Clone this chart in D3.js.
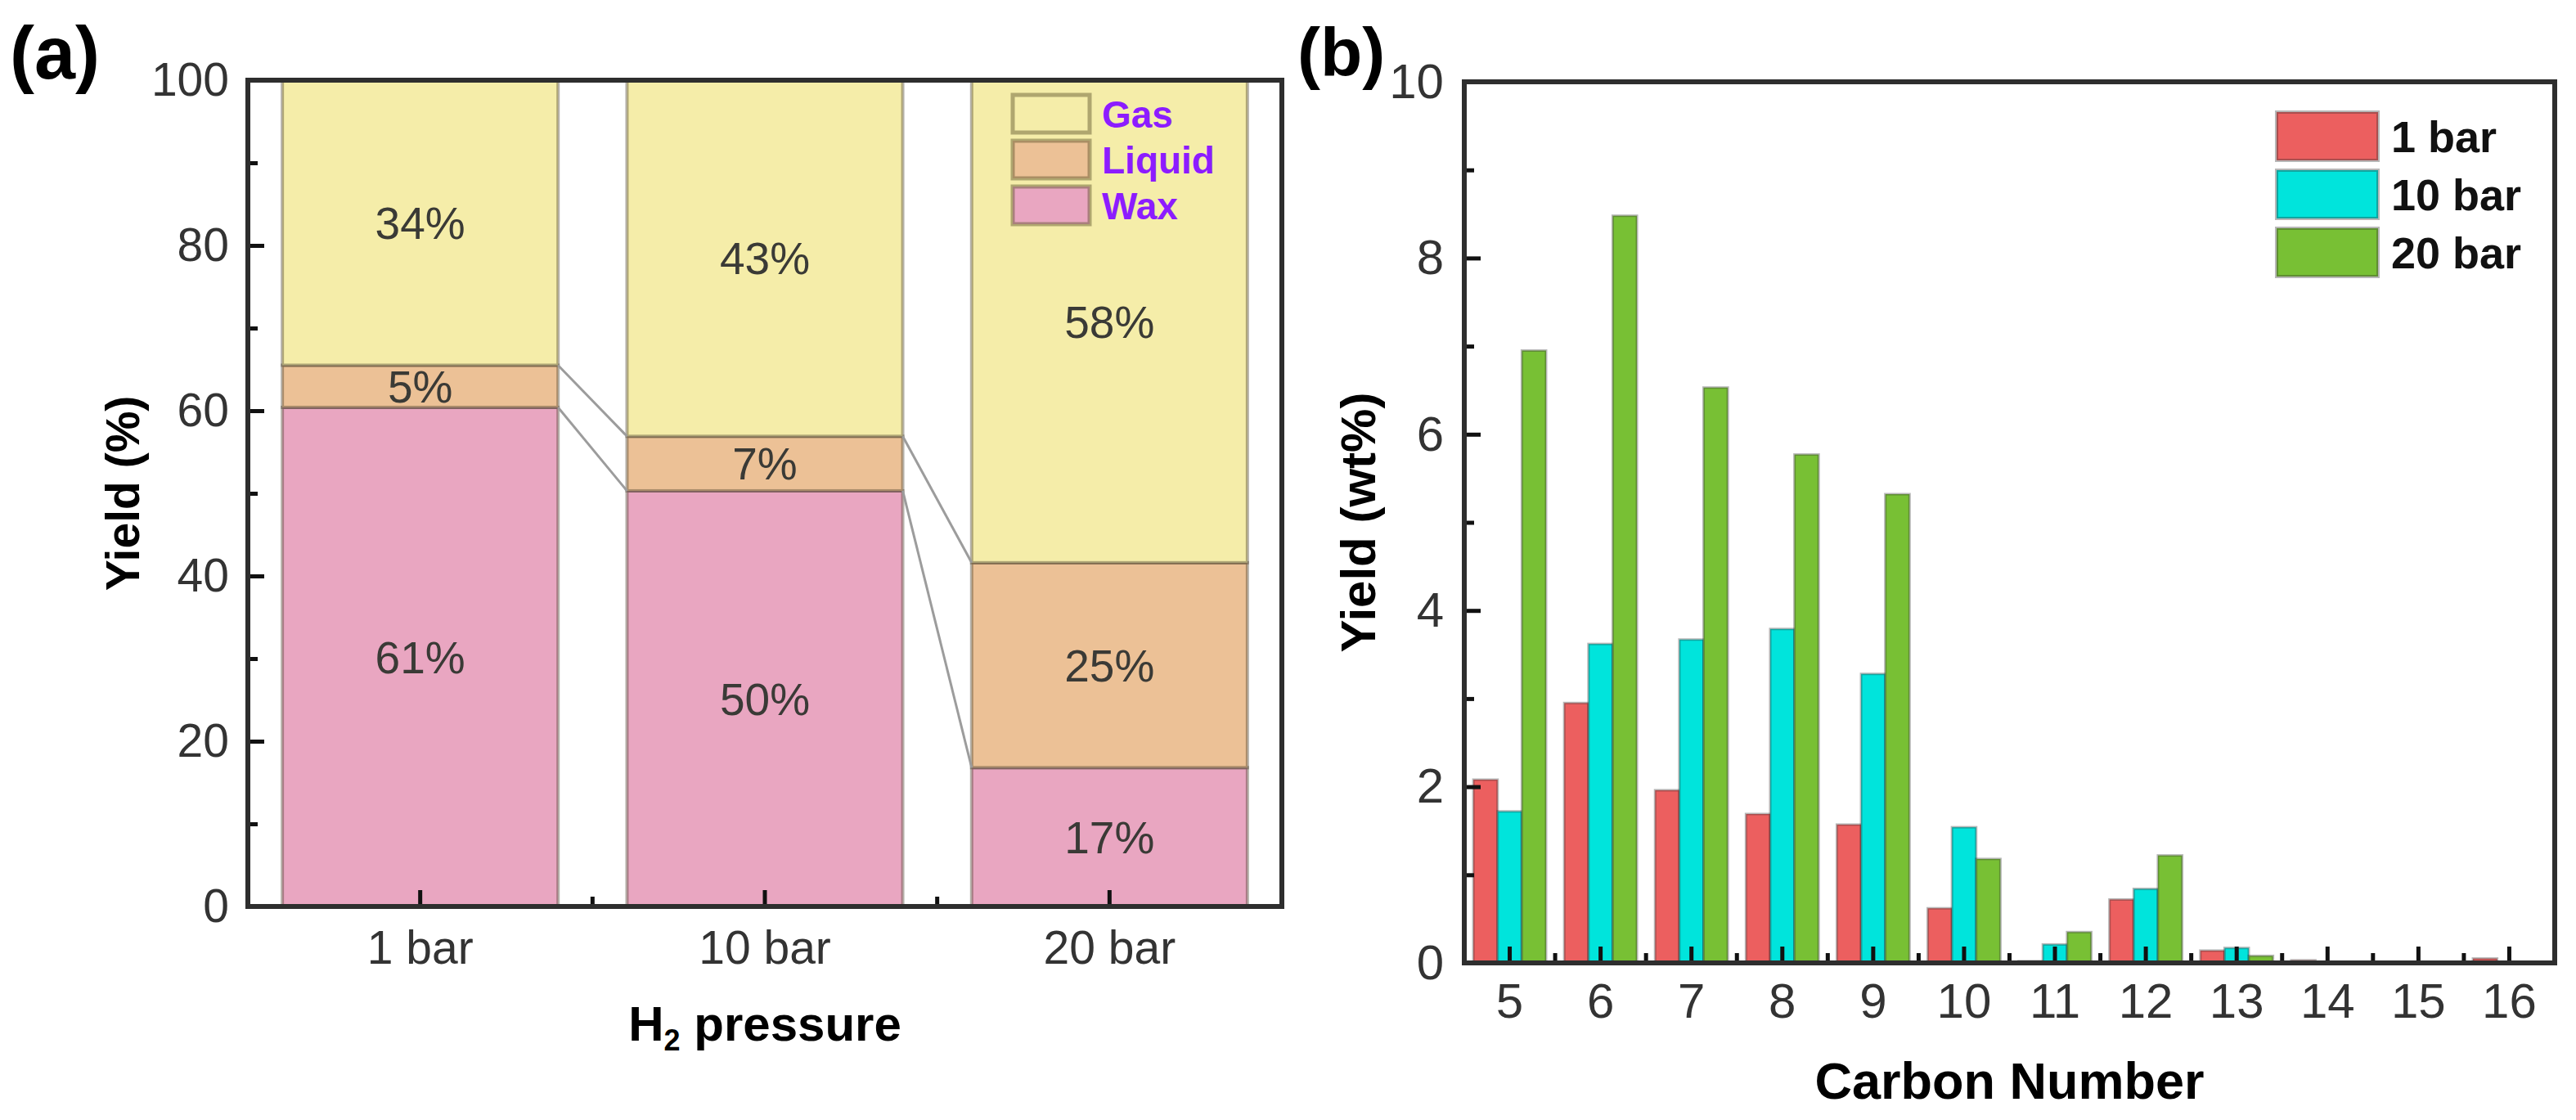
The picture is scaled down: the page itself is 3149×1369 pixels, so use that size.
<!DOCTYPE html>
<html>
<head>
	<meta charset="utf-8">
	<title>Yield vs H2 pressure</title>
	<style type="text/css">
		body { margin: 0; background: #fff; }
		svg { display: block; font-family: 'Liberation Sans', Arial, sans-serif; }
	</style>
	<script src="https://d3js.org/d3.v7.min.js"></script>
</head>
<body>
	<svg width="3149" height="1369"></svg>
	<script type="text/javascript">
		// panel (a) data
		var pressures = ['1 bar', '10 bar', '20 bar'];
		var waxYield = [60.4, 50.3, 16.8];
		var liquidYield = [5.1, 6.6, 24.8];
		var gasYield = [34.5, 43.1, 58.4];
		var waxLabels = ['61%', '50%', '17%'];
		var liquidLabels = ['5%', '7%', '25%'];
		var gasLabels = ['34%', '43%', '58%'];
		var yTicksA = [0, 20, 40, 60, 80, 100];

		// panel (b) data
		var carbonNumbers = [5, 6, 7, 8, 9, 10, 11, 12, 13, 14, 15, 16];
		var yield1bar = [2.08, 2.95, 1.96, 1.69, 1.57, 0.62, 0.02, 0.72, 0.14, 0.03, 0.01, 0.05];
		var yield10bar = [1.72, 3.62, 3.67, 3.79, 3.28, 1.54, 0.21, 0.84, 0.17, 0.01, 0, 0];
		var yield20bar = [6.95, 8.48, 6.53, 5.77, 5.32, 1.18, 0.35, 1.22, 0.08, 0.01, 0, 0];
		var seriesNames = ['1 bar', '10 bar', '20 bar'];
		var yTicksB = [0, 2, 4, 6, 8, 10];

		var svg = d3.select('svg');
		var frameCol = '#2e2e2e';

		//---------------- panel (a) ----------------
		var ax = {l: 303, r: 1567, t: 98, b: 1108};
		var xa = d3.scaleBand().domain(pressures).range([ax.l, ax.r])
			.paddingInner(0.2).paddingOuter(0.1);
		var ya = d3.scaleLinear().domain([0, 100]).range([ax.b, ax.t]);

		var rowsA = pressures.map((p, i) => ({p: p, wax: waxYield[i], liquid: liquidYield[i], gas: gasYield[i]}));
		var keysA = ['wax', 'liquid', 'gas'];
		var colA = {wax: '#e9a6c1', liquid: '#ecc196', gas: '#f5eda9'};
		var labA = {wax: waxLabels, liquid: liquidLabels, gas: gasLabels};
		var stackA = d3.stack().keys(keysA)(rowsA);

		var gA = svg.append('g');
		stackA.forEach(layer => {
			gA.selectAll(null)
				.data(layer)
				.enter()
				.append('rect')
				.attr('x', d => xa(d.data.p))
				.attr('y', d => ya(d[1]))
				.attr('width', xa.bandwidth())
				.attr('height', d => ya(d[0]) - ya(d[1]))
				.attr('fill', colA[layer.key])
				.attr('stroke', 'rgba(70,60,40,0.4)')
				.attr('stroke-width', 4);
		});

		// connector lines between neighbouring bars
		for (var i = 0; i < pressures.length - 1; i++) {
			[0, 1].forEach(k => {
				gA.append('line')
					.attr('x1', xa(pressures[i]) + xa.bandwidth())
					.attr('y1', ya(stackA[k][i][1]))
					.attr('x2', xa(pressures[i + 1]))
					.attr('y2', ya(stackA[k][i + 1][1]))
					.attr('stroke', '#9c9c9c')
					.attr('stroke-width', 3);
			});
		}

		// percentage labels
		stackA.forEach(layer => {
			gA.selectAll(null)
				.data(layer)
				.enter()
				.append('text')
				.attr('x', d => xa(d.data.p) + xa.bandwidth() / 2)
				.attr('y', d => (ya(d[0]) + ya(d[1])) / 2)
				.attr('dy', '0.36em')
				.attr('text-anchor', 'middle')
				.attr('font-size', 55)
				.attr('fill', '#3a3a36')
				.text((d, j) => labA[layer.key][j]);
		});

		// axes
		svg.append('g')
			.attr('transform', 'translate(' + ax.l + ',0)')
			.call(d3.axisLeft(ya).tickValues([10, 30, 50, 70, 90]).tickSize(-12).tickFormat(''))
			.call(g => g.select('.domain').remove())
			.selectAll('line').attr('stroke', '#111').attr('stroke-width', 5);
		svg.append('g')
			.attr('transform', 'translate(' + ax.l + ',0)')
			.call(d3.axisLeft(ya).tickValues(yTicksA).tickSize(-20).tickPadding(23))
			.call(g => g.select('.domain').remove())
			.call(g => g.selectAll('line').attr('stroke', '#111').attr('stroke-width', 5))
			.selectAll('text').attr('font-size', 57).attr('fill', '#333').attr('font-family', 'Liberation Sans');
		svg.append('g')
			.attr('transform', 'translate(0,' + ax.b + ')')
			.call(d3.axisBottom(xa).tickSize(-20).tickPadding(30))
			.call(g => g.select('.domain').remove())
			.call(g => g.selectAll('line').attr('stroke', '#111').attr('stroke-width', 5))
			.selectAll('text').attr('font-size', 57).attr('fill', '#333').attr('font-family', 'Liberation Sans');
		// minor ticks between categories
		svg.append('g').selectAll('line')
			.data(pressures.slice(1))
			.enter()
			.append('line')
			.attr('x1', d => xa(d) - xa.step() * xa.paddingInner() / 2)
			.attr('x2', d => xa(d) - xa.step() * xa.paddingInner() / 2)
			.attr('y1', ax.b).attr('y2', ax.b - 12)
			.attr('stroke', '#111').attr('stroke-width', 5);

		svg.append('rect')
			.attr('x', ax.l).attr('y', ax.t)
			.attr('width', ax.r - ax.l).attr('height', ax.b - ax.t)
			.attr('fill', 'none').attr('stroke', frameCol).attr('stroke-width', 6);

		// legend (a)
		var legA = ['gas', 'liquid', 'wax'];
		var legNamesA = {gas: 'Gas', liquid: 'Liquid', wax: 'Wax'};
		legA.forEach((k, i) => {
			svg.append('rect')
				.attr('x', 1238).attr('y', 116 + i * 56)
				.attr('width', 94).attr('height', 46)
				.attr('fill', colA[k])
				.attr('stroke', 'rgba(90,80,40,0.45)').attr('stroke-width', 5);
			svg.append('text')
				.attr('x', 1347).attr('y', 139 + i * 56)
				.attr('dy', '0.36em')
				.attr('font-size', 46).attr('font-weight', 'bold')
				.attr('fill', '#8c1cff')
				.text(legNamesA[k]);
		});

		svg.append('text').attr('x', 12).attr('y', 96)
			.attr('font-size', 90).attr('font-weight', 'bold').text('(a)');
		var h2 = svg.append('text').attr('x', (ax.l + ax.r) / 2).attr('y', 1272)
			.attr('text-anchor', 'middle').attr('font-size', 60).attr('font-weight', 'bold');
		h2.append('tspan').text('H');
		h2.append('tspan').attr('font-size', 36).attr('dy', 12).text('2');
		h2.append('tspan').attr('dy', -12).text(' pressure');
		svg.append('text')
			.attr('transform', 'translate(170,' + (ax.t + ax.b) / 2 + ') rotate(-90)')
			.attr('text-anchor', 'middle').attr('font-size', 57).attr('font-weight', 'bold')
			.text('Yield (%)');

		//---------------- panel (b) ----------------
		var bx = {l: 1790, r: 3123, t: 100, b: 1177};
		var xb = d3.scaleBand().domain(carbonNumbers).range([bx.l, bx.r])
			.paddingInner(0.2).paddingOuter(0.1);
		var xs = d3.scaleBand().domain(seriesNames).range([0, xb.bandwidth()]);
		var yb = d3.scaleLinear().domain([0, 10]).range([bx.b, bx.t]);
		var colB = {'1 bar': '#ec5f5f', '10 bar': '#00e4dc', '20 bar': '#78c034'};
		var valsB = {'1 bar': yield1bar, '10 bar': yield10bar, '20 bar': yield20bar};

		var gB = svg.append('g');
		seriesNames.forEach(s => {
			gB.selectAll(null)
				.data(carbonNumbers)
				.enter()
				.append('rect')
				.attr('x', d => xb(d) + xs(s))
				.attr('y', (d, i) => yb(valsB[s][i]))
				.attr('width', xs.bandwidth())
				.attr('height', (d, i) => yb(0) - yb(valsB[s][i]))
				.attr('fill', colB[s])
				.attr('stroke', 'rgba(50,50,50,0.35)')
				.attr('stroke-width', 3);
		});

		svg.append('g')
			.attr('transform', 'translate(' + bx.l + ',0)')
			.call(d3.axisLeft(yb).tickValues([1, 3, 5, 7, 9]).tickSize(-12).tickFormat(''))
			.call(g => g.select('.domain').remove())
			.selectAll('line').attr('stroke', '#111').attr('stroke-width', 5);
		svg.append('g')
			.attr('transform', 'translate(' + bx.l + ',0)')
			.call(d3.axisLeft(yb).tickValues(yTicksB).tickSize(-20).tickPadding(25))
			.call(g => g.select('.domain').remove())
			.call(g => g.selectAll('line').attr('stroke', '#111').attr('stroke-width', 5))
			.selectAll('text').attr('font-size', 60).attr('fill', '#333').attr('font-family', 'Liberation Sans');
		svg.append('g')
			.attr('transform', 'translate(0,' + bx.b + ')')
			.call(d3.axisBottom(xb).tickSize(-20).tickPadding(24))
			.call(g => g.select('.domain').remove())
			.call(g => g.selectAll('line').attr('stroke', '#111').attr('stroke-width', 5))
			.selectAll('text').attr('font-size', 60).attr('fill', '#333').attr('font-family', 'Liberation Sans');
		svg.append('g').selectAll('line')
			.data(carbonNumbers)
			.enter()
			.append('line')
			.attr('x1', d => xb(d) + xb.bandwidth() + xb.step() * xb.paddingInner() / 2)
			.attr('x2', d => xb(d) + xb.bandwidth() + xb.step() * xb.paddingInner() / 2)
			.attr('y1', bx.b).attr('y2', bx.b - 12)
			.attr('stroke', '#111').attr('stroke-width', 5);

		svg.append('rect')
			.attr('x', bx.l).attr('y', bx.t)
			.attr('width', bx.r - bx.l).attr('height', bx.b - bx.t)
			.attr('fill', 'none').attr('stroke', frameCol).attr('stroke-width', 6);

		// legend (b)
		seriesNames.forEach((s, i) => {
			svg.append('rect')
				.attr('x', 2783).attr('y', 137 + i * 71)
				.attr('width', 124).attr('height', 59)
				.attr('fill', colB[s])
				.attr('stroke', 'rgba(50,50,50,0.35)').attr('stroke-width', 4);
			svg.append('text')
				.attr('x', 2923).attr('y', 167 + i * 71)
				.attr('dy', '0.36em')
				.attr('font-size', 54).attr('font-weight', 'bold')
				.attr('fill', '#111')
				.text(s);
		});

		svg.append('text').attr('x', 1586).attr('y', 93)
			.attr('font-size', 84).attr('font-weight', 'bold').text('(b)');
		svg.append('text').attr('x', (bx.l + bx.r) / 2).attr('y', 1343)
			.attr('text-anchor', 'middle').attr('font-size', 63).attr('font-weight', 'bold')
			.text('Carbon Number');
		svg.append('text')
			.attr('transform', 'translate(1681,' + (bx.t + bx.b) / 2 + ') rotate(-90)')
			.attr('text-anchor', 'middle').attr('font-size', 60).attr('font-weight', 'bold')
			.text('Yield (wt%)');
	</script>
</body>
</html>
